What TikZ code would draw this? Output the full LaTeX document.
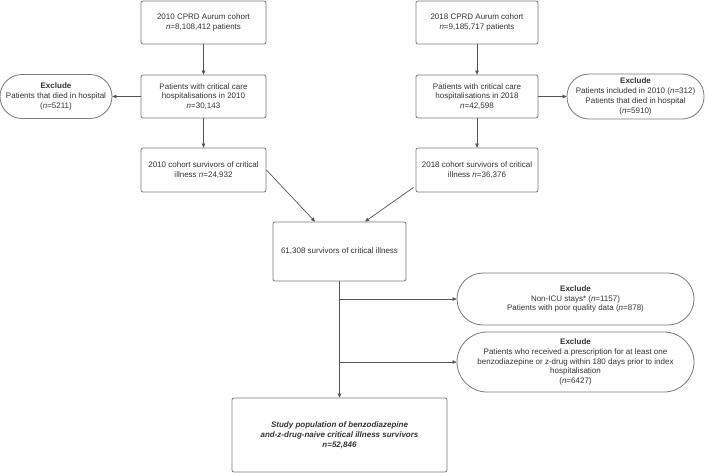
\documentclass[tikz,border=0pt]{standalone}
\usepackage{fontspec}
\setmainfont{Liberation Sans}
\usetikzlibrary{arrows.meta,calc}
\definecolor{txt}{HTML}{333333}
\definecolor{ln}{HTML}{555555}
\definecolor{bd}{HTML}{7A7A7A}
\tikzset{
  box/.style={draw=bd, line width=0.8pt, rounded corners=2pt, align=center, text=txt,
    font=\fontsize{8}{9.8}\selectfont, inner sep=1pt},
  excl/.style={draw=bd, line width=0.8pt, align=center, text=txt,
    font=\fontsize{8}{9.8}\selectfont, inner sep=1pt},
  arr/.style={draw=ln, line width=0.7pt, -{Triangle[length=4pt,width=3.6pt]}},
  plain/.style={draw=ln, line width=0.7pt}
}
\newcommand{\nn}{\textit{n}}
\begin{document}
\begin{tikzpicture}[x=1pt,y=-1pt]
\path[use as bounding box, fill=white] (0,0) rectangle (709,473);

% left column
\node[box, minimum width=125pt, minimum height=43pt] (c10) at (203.5,22.5)
  {2010 CPRD Aurum cohort\\ \nn=8,108,412 patients};
\node[box, minimum width=125pt, minimum height=43pt] (p10) at (203.5,96.5)
  {Patients with critical care\\ hospitalisations in 2010\\ \nn=30,143};
\node[box, minimum width=125pt, minimum height=44pt] (s10) at (203.5,170)
  {2010 cohort survivors of critical\\ illness \nn=24,932};
\node[excl, minimum width=112pt, minimum height=44pt, rounded corners=22pt] (e10) at (56,96.5)
  {\textbf{Exclude}\\ Patients that died in hospital\\ (\nn=5211)};

% right column
\node[box, minimum width=122pt, minimum height=43pt] (c18) at (477,22.5)
  {2018 CPRD Aurum cohort\\ \nn=9,185,717 patients};
\node[box, minimum width=122pt, minimum height=43pt] (p18) at (477,96.5)
  {Patients with critical care\\ hospitalisations in 2018\\ \nn=42,598};
\node[box, minimum width=122pt, minimum height=44pt] (s18) at (477,170)
  {2018 cohort survivors of critical\\ illness \nn=36,376};
\node[excl, minimum width=137pt, minimum height=45pt, rounded corners=22pt] (e18) at (635.5,96.5)
  {\textbf{Exclude}\\ Patients included in 2010 (\nn=312)\\ Patients that died in hospital\\ (\nn=5910)};

% merged
\node[box, minimum width=133pt, minimum height=59pt] (all) at (339.5,251.5)
  {61,308 survivors of critical illness};

\node[excl, minimum width=237pt, minimum height=52pt, rounded corners=26pt] (x1) at (575.5,299)
  {\textbf{Exclude}\\ Non-ICU stays* (\nn=1157)\\ Patients with poor quality data (\nn=878)};
\node[excl, minimum width=237pt, minimum height=60pt, rounded corners=30pt] (x2) at (575.5,362)
  {\textbf{Exclude}\\ Patients who received a prescription for at least one\\ benzodiazepine or z-drug within 180 days prior to index\\ hospitalisation\\ (\nn=6427)};

\node[box, minimum width=215pt, minimum height=74pt] (study) at (339.5,435)
  {\textbf{\textit{Study population of benzodiazepine}}\\ \textbf{\textit{and-z-drug-naive critical illness survivors}}\\ \textbf{\textit{n=52,846}}};

% connectors
\draw[arr] (c10) -- (p10);
\draw[arr] (p10) -- (s10);
\draw[arr] (p10.west) -- (e10.east);
\draw[arr] (c18) -- (p18);
\draw[arr] (p18) -- (s18);
\draw[arr] (p18.east) -- (e18.west);

\coordinate (inL) at ($(all.north)+(-24.5,0)$);
\coordinate (inR) at ($(all.north)+(25.5,0)$);
\coordinate (outR) at ($(s18.south west)+(-2,-5)$);
\draw[arr] (s10.east) -- (inL);
\draw[arr] (outR) -- (inR);

\draw[arr] (all.south) -- (study.north);
\draw[arr] (all.south |- x1.west) -- (x1.west);
\draw[arr] (all.south |- x2.west) -- (x2.west);
\end{tikzpicture}
\end{document}
